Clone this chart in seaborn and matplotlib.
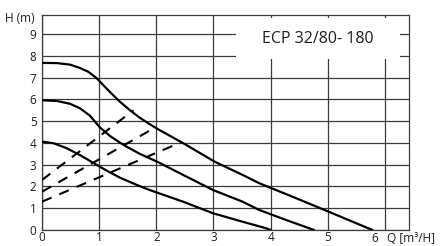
import numpy as np
import pandas as pd
import matplotlib
matplotlib.use("Agg")
import matplotlib.pyplot as plt
import matplotlib.patches as patches
import seaborn as sns

# pump curves (Q in m3/h, H in m)
q_high = [0, 0.26, 0.49, 0.66, 0.81, 0.95, 1.07, 1.22, 1.36, 1.54, 1.71, 1.88,
          2.03, 2.47, 3.02, 3.51, 3.8, 4.39, 4.97, 5.78]
h_high = [7.68, 7.67, 7.6, 7.45, 7.27, 6.99, 6.66, 6.26, 5.9, 5.5, 5.16, 4.87,
          4.63, 3.99, 3.14, 2.53, 2.15, 1.52, 0.89, 0]

q_mid = [0, 0.26, 0.49, 0.66, 0.84, 1.01, 1.19, 1.36, 1.48, 1.71, 2.03, 2.47,
         2.99, 3.51, 3.8, 4.27, 4.76]
h_mid = [5.96, 5.93, 5.8, 5.6, 5.25, 4.72, 4.32, 4.02, 3.83, 3.5, 3.12, 2.53,
         1.84, 1.3, 0.92, 0.46, 0]

q_low = [0, 0.2, 0.43, 0.66, 0.9, 1.13, 1.36, 1.65, 1.88, 2.47, 2.99, 3.51,
         3.92, 4.0]
h_low = [4.06, 3.99, 3.76, 3.45, 3.08, 2.73, 2.41, 2.08, 1.84, 1.3, 0.77, 0.38,
         0.08, 0]

# system (dashed) lines
q_sys1 = [0, 1.6]
h_sys1 = [2.3, 5.5]
q_sys2 = [0, 2.0]
h_sys2 = [1.76, 4.74]
q_sys3 = [0, 2.44]
h_sys3 = [1.3, 4.04]

x_ticks = [0, 1, 2, 3, 4, 5, 6]
x_labels = ["0", "1", "2", "3", "4", "5", "6"]
y_ticks = [0, 1, 2, 3, 4, 5, 6, 7, 8, 9]
y_labels = ["0", "1", "2", "3", "4", "5", "6", "7", "8", "9"]

title = "ECP 32/80- 180"
y_title = "H (m)"
x_title = "Q [m³/H]"

sns.set_style("white")
plt.rcParams['font.family'] = ['Open Sans', 'DejaVu Sans']

W, H = 440, 246
fig = plt.figure(figsize=(W / 100, H / 100), dpi=100)
ax = fig.add_axes([42 / W, 1 - 230 / H, (409 - 42) / W, (230 - 15) / H])

grid_col = "#3f3b3b"
ink = "#000000"
txt = "#1e1e1e"

for q, h in [(q_high, h_high), (q_mid, h_mid), (q_low, h_low)]:
    sns.lineplot(x=q, y=h, ax=ax, color=ink, linewidth=1.6, sort=False,
                 estimator=None, zorder=3)
    ax.lines[-1].set_solid_joinstyle("round")

for q, h in [(q_sys1, h_sys1), (q_sys2, h_sys2), (q_sys3, h_sys3)]:
    sns.lineplot(x=q, y=h, ax=ax, color=ink, linewidth=1.5, sort=False,
                 estimator=None, zorder=3)
    ax.lines[-1].set_dashes((5, 4))
    ax.lines[-1].set_dash_capstyle("butt")

ax.set_xlim(0, 6.42)
ax.set_ylim(0, 9.88)
ax.set_xticks(x_ticks)
ax.set_yticks(y_ticks)
ax.set_xticklabels(x_labels[:-1] + [""])
ax.set_yticklabels(y_labels)
ax.tick_params(axis="x", length=0, labelsize=8.5, colors=txt, pad=0.5)
ax.tick_params(axis="y", length=0, labelsize=8.5, colors=txt, pad=4)
ax.grid(True, color=grid_col, linewidth=0.9)
ax.set_axisbelow(True)
for s in ax.spines.values():
    s.set_color(grid_col)
    s.set_linewidth(0.9)

# white box behind the model name
ax.add_patch(patches.Rectangle((3.39, 7.87), 6.26 - 3.39, 9.72 - 7.87,
                               facecolor="white", edgecolor="none", zorder=1))
ax.text(4.83, 8.76, title, ha="center", va="center", fontsize=11.5,
        color=txt, zorder=4)

# last x label sits left of its grid line, followed by the axis name
fig.text(375 / W, 1 - 239 / H, x_labels[-1], ha="center", va="center",
         fontsize=8.5, color=txt)
fig.text(387 / W, 1 - 239 / H, x_title, ha="left", va="center",
         fontsize=8.5, color=txt)
fig.text(35 / W, 1 - 18 / H, y_title, ha="right", va="center",
         fontsize=8.5, color=txt)

ax.set_xlabel("")
ax.set_ylabel("")
fig.savefig("out.png", dpi=100)
